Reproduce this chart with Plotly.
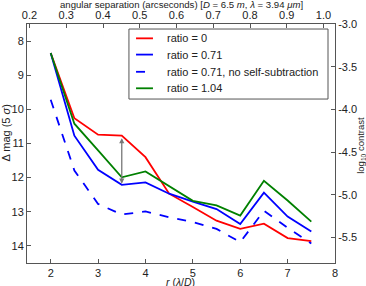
import plotly.graph_objects as go

r = [2.0, 2.5, 3.0, 3.5, 4.0, 4.5, 5.0, 5.5, 6.0, 6.5, 7.0, 7.5]
ratio_0 = [8.35, 10.26, 10.74, 10.77, 11.40, 12.47, 12.86, 13.26, 13.50, 13.35, 13.77, 13.86]
ratio_071 = [8.35, 10.77, 11.77, 12.21, 12.14, 12.47, 12.70, 12.92, 13.36, 12.44, 13.14, 13.58]
ratio_071_noss = [9.72, 11.79, 12.77, 13.08, 12.99, 13.16, 13.30, 13.50, 13.89, 12.97, 13.47, 13.93]
ratio_104 = [8.35, 10.42, 11.20, 11.99, 11.82, 12.25, 12.68, 12.81, 13.11, 12.09, 12.67, 13.29]

series_names = ["ratio = 0", "ratio = 0.71", "ratio = 0.71, no self-subtraction", "ratio = 1.04"]
series_values = [ratio_0, ratio_071, ratio_071_noss, ratio_104]
series_colors = ["#ff0000", "#0000ff", "#0000ff", "#008000"]
series_dash = ["solid", "solid", "dash", "solid"]

arrow_x = 3.5
arrow_top = 10.8
arrow_bottom = 12.18

x_range = [1.5, 8.0]
y_range = [14.5, 7.5]
x_ticks = [2, 3, 4, 5, 6, 7, 8]
y_ticks = [8, 9, 10, 11, 12, 13, 14]
top_range = [0.1932, 1.0313]
top_ticks = [0.2, 0.3, 0.4, 0.5, 0.6, 0.7, 0.8, 0.9, 1.0]
right_range = [-5.8, -3.0]
right_ticks = [-3.0, -3.5, -4.0, -4.5, -5.0, -5.5]

FONT = "Liberation Sans, Arial, sans-serif"
AX = "#555555"
TXT = "#222222"

fig = go.Figure()
for name, vals, col, dash in zip(series_names, series_values, series_colors, series_dash):
    fig.add_trace(go.Scatter(x=r, y=vals, mode="lines", name=name, showlegend=False,
                             line=dict(color=col, width=1.8, dash=dash)))
# dummy trace to activate secondary axes
fig.add_trace(go.Scatter(x=[top_range[0]], y=[right_range[1]], xaxis="x2", yaxis="y2",
                         mode="markers", marker=dict(opacity=0), showlegend=False,
                         hoverinfo="skip"))

fig.add_annotation(x=arrow_x, y=arrow_bottom, ax=arrow_x, ay=arrow_top,
                   xref="x", yref="y", axref="x", ayref="y",
                   showarrow=True, arrowhead=2, arrowside="end+start",
                   arrowsize=0.8, arrowwidth=1.3, arrowcolor="#777777", text="")

# manual legend (paper coordinates)
leg_x0, leg_x1, leg_y0, leg_y1 = 0.331, 0.9773, 0.686, 0.979
fig.add_shape(type="rect", xref="paper", yref="paper", x0=leg_x0, x1=leg_x1,
              y0=leg_y0, y1=leg_y1, line=dict(color=AX, width=1), fillcolor="white",
              layer="above")
leg_rows = [0.940, 0.872, 0.800, 0.731]
for name, col, dash, yy in zip(series_names, series_colors, series_dash, leg_rows):
    fig.add_shape(type="line", xref="paper", yref="paper", x0=0.354, x1=0.409,
                  y0=yy, y1=yy, line=dict(color=col, width=1.8, dash=dash), layer="above")
    fig.add_annotation(xref="paper", yref="paper", x=0.448, y=yy, text=name,
                       showarrow=False, xanchor="left", yanchor="middle",
                       font=dict(family=FONT, size=11, color=TXT))

# axis titles
fig.add_annotation(xref="paper", yref="paper", x=0.503, y=1.0795,
                   text="angular separation (arcseconds) [<i>D</i> = 6.5 <i>m</i>, <i>λ</i> = 3.94 <i>μm</i>]",
                   showarrow=False, xanchor="center", yanchor="middle",
                   font=dict(family=FONT, size=9.6, color=TXT))
fig.add_annotation(xref="paper", yref="paper", x=0.497, y=-0.0795,
                   text="<i>r</i> (<i>λ</i>/<i>D</i>)", showarrow=False,
                   xanchor="center", yanchor="middle",
                   font=dict(family=FONT, size=10.5, color=TXT))
fig.add_annotation(xref="paper", yref="paper", x=-0.0695, y=0.544,
                   text="Δ mag (5 <i>σ</i>)", showarrow=False, textangle=-90,
                   xanchor="center", yanchor="middle",
                   font=dict(family=FONT, size=11, color=TXT))
fig.add_annotation(xref="paper", yref="paper", x=1.084, y=0.494,
                   text="log<sub>10</sub> contrast", showarrow=False, textangle=-90,
                   xanchor="center", yanchor="middle",
                   font=dict(family=FONT, size=9.5, color=TXT))

axis_common = dict(showline=True, linecolor=AX, linewidth=1, mirror=False,
                   ticks="inside", ticklen=4, tickcolor=AX, showgrid=False,
                   zeroline=False, automargin=False,
                   tickfont=dict(family=FONT, size=11, color=TXT))

fig.update_layout(
    width=366, height=286,
    margin=dict(l=27, r=31, t=24, b=23, autoexpand=False),
    paper_bgcolor="white", plot_bgcolor="white",
    font=dict(family=FONT, size=11, color=TXT),
    xaxis=dict(range=x_range, tickvals=x_ticks, ticktext=[str(v) for v in x_ticks],
               ticklabelstandoff=0, **axis_common),
    yaxis=dict(range=y_range, tickvals=y_ticks, ticktext=[str(v) for v in y_ticks],
               **axis_common),
    xaxis2=dict(range=top_range, overlaying="x", side="top", anchor="y",
                tickvals=top_ticks, ticktext=[f"{v:.1f}" for v in top_ticks],
                **axis_common),
    yaxis2=dict(range=right_range, overlaying="y", side="right", anchor="x",
                tickvals=right_ticks, ticktext=[f"{v:.1f}" for v in right_ticks],
                **axis_common),
    showlegend=False,
)

fig.write_html("out.html")
